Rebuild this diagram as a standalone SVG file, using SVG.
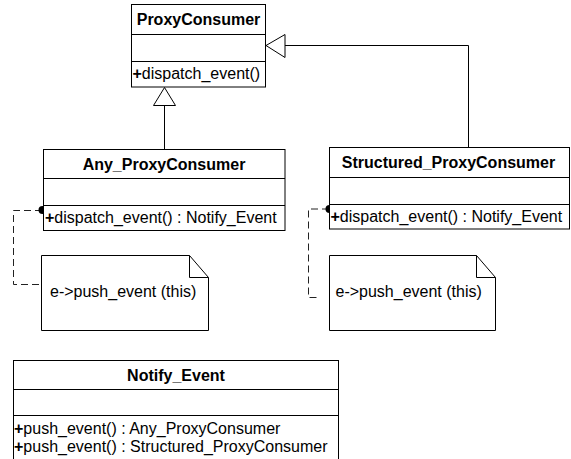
<svg xmlns="http://www.w3.org/2000/svg" width="571" height="459" viewBox="0 0 571 459">
<style>
.box{fill:#fff;stroke:#000;stroke-width:1}
.ln{fill:none;stroke:#000;stroke-width:1}
.dash{fill:none;stroke:#222;stroke-width:1;stroke-dasharray:7,4}
.t{font-family:"Liberation Sans",Arial,sans-serif;font-size:16px;fill:#000}
.b{font-weight:bold;text-anchor:middle}
.p{font-weight:bold}
.tri{fill:#fff;stroke:#000;stroke-width:1}
</style>
<rect width="571" height="459" fill="#fff"/>
<g id="connectors">
<polyline class="ln" points="164.5,105.5 164.5,149"/>
<polygon class="tri" points="164.5,87.5 153.5,105.5 175.5,105.5"/>
<polyline class="ln" points="285,45.5 468.5,45.5 468.5,147.5"/>
<polygon class="tri" points="266,45.5 285,34.5 285,57.5"/>
<polyline class="dash" points="42,210.5 13.5,210.5 13.5,284.5 53,284.5"/>
<circle cx="42.5" cy="210" r="4" fill="#000"/>
<polyline class="dash" points="329,209 308.5,209 308.5,297.5 319,297.5"/>
<circle cx="329.5" cy="209" r="4" fill="#000"/>
</g>
<g id="ProxyConsumer">
<rect class="box" x="131.5" y="4.5" width="134" height="82.5"/>
<line class="ln" x1="131.5" y1="34.5" x2="265.5" y2="34.5"/>
<line class="ln" x1="131.5" y1="61.5" x2="265.5" y2="61.5"/>
<text class="t b" x="198.5" y="25">ProxyConsumer</text>
<text class="t" x="132.5" y="78.5"><tspan class="p">+</tspan>dispatch_event()</text>
</g>
<g id="Any_ProxyConsumer">
<rect class="box" x="43.5" y="149.5" width="241.5" height="81"/>
<line class="ln" x1="43.5" y1="178.5" x2="285" y2="178.5"/>
<line class="ln" x1="43.5" y1="205.5" x2="285" y2="205.5"/>
<text class="t b" x="164" y="169.5">Any_ProxyConsumer</text>
<text class="t" x="45" y="223"><tspan class="p">+</tspan>dispatch_event() : Notify_Event</text>
</g>
<g id="Structured_ProxyConsumer">
<rect class="box" x="329.5" y="147.5" width="240" height="81.5"/>
<line class="ln" x1="329.5" y1="177.5" x2="569.5" y2="177.5"/>
<line class="ln" x1="329.5" y1="204.5" x2="569.5" y2="204.5"/>
<text class="t b" x="448.5" y="168">Structured_ProxyConsumer</text>
<text class="t" x="330.5" y="221.5"><tspan class="p">+</tspan>dispatch_event() : Notify_Event</text>
</g>
<g id="note1">
<path class="box" d="M41.5,255.5 H189.5 L208.5,277.5 V330.5 H41.5 Z"/>
<path class="ln" d="M189.5,255.5 V277.5 H208.5"/>
<text class="t" x="50" y="297">e-&gt;push_event (this)</text>
</g>
<g id="note2">
<path class="box" d="M329.5,255.5 H476.5 L495.5,277.5 V330.5 H329.5 Z"/>
<path class="ln" d="M476.5,255.5 V277.5 H495.5"/>
<text class="t" x="335.5" y="297">e-&gt;push_event (this)</text>
</g>
<g id="Notify_Event">
<rect class="box" x="13.5" y="360.5" width="325" height="110"/>
<line class="ln" x1="13.5" y1="389.5" x2="338.5" y2="389.5"/>
<line class="ln" x1="13.5" y1="415.5" x2="338.5" y2="415.5"/>
<text class="t b" x="176" y="380.5">Notify_Event</text>
<text class="t" x="14" y="434"><tspan class="p">+</tspan>push_event() : Any_ProxyConsumer</text>
<text class="t" x="14" y="452"><tspan class="p">+</tspan>push_event() : Structured_ProxyConsumer</text>
</g>
</svg>
